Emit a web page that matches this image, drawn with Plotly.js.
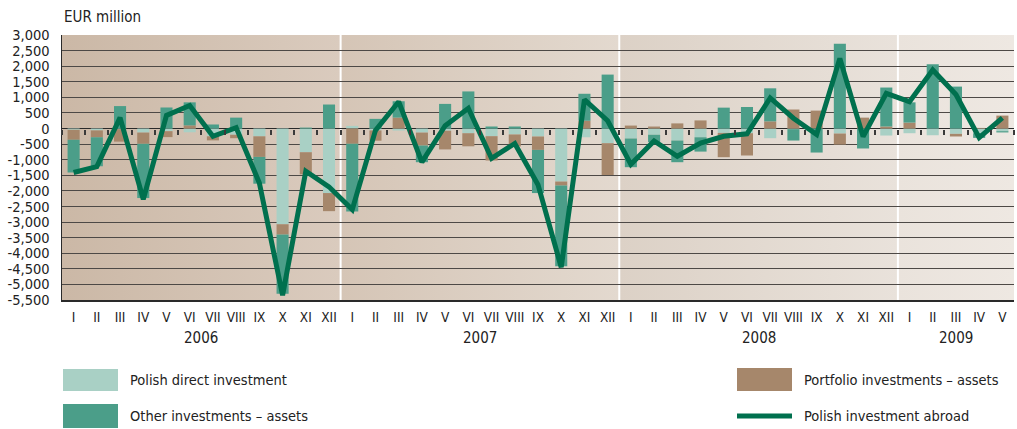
<!DOCTYPE html>
<html>
<head>
<meta charset="utf-8">
<script src="https://cdn.plot.ly/plotly-3.0.1.min.js"></script>
<style>
html,body{margin:0;padding:0;background:#ffffff;}
#chart{width:1017px;height:429px;}
</style>
</head>
<body>
<div id="chart"></div>
<script>
// ---- DATA (EUR million) ----
const romanMonths = ['I','II','III','IV','V','VI','VII','VIII','IX','X','XI','XII'];
const years = ['2006','2007','2008','2009'];
const monthsPerYear = [12,12,12,5];

const directInvestment = [
  -40,-60,-20,-130,-85,-120,-250,-200,-250,-3070,-760,-2070,
  85,-60,-65,-130,-70,-150,-245,-190,-255,-1700,-280,-470,
  -320,-200,-385,-280,-140,-150,-310,-20,0,-160,0,-225,
  -150,-215,-170,-150,-85
];
const portfolioAssets = [
  -320,-220,-400,-360,-190,100,-130,-110,-660,-330,-710,-580,
  -490,-330,350,-415,-600,-420,-780,-385,-430,-130,250,-1020,
  95,64,165,260,-780,-715,230,610,575,-355,350,65,
  190,0,-85,20,415
];
const otherAssets = [
  -1050,-930,720,-1740,675,740,130,350,-860,-1900,30,770,
  -2170,310,525,-535,790,1190,65,65,-1385,-2590,865,1730,
  -920,-235,-695,-460,670,690,1060,-365,-770,2720,-640,1250,
  650,2060,1345,-150,-40
];
const investmentAbroad = [
  -1410,-1220,350,-2270,420,740,-250,30,-1750,-5350,-1370,-1870,
  -2600,-60,860,-1080,90,650,-960,-480,-1800,-4450,930,250,
  -1150,-400,-890,-470,-250,-170,980,330,-190,2250,-260,1130,
  860,1880,1090,-290,340
];

const yTickVals = [3000,2500,2000,1500,1000,500,0,-500,-1000,-1500,-2000,-2500,-3000,-3500,-4000,-4500,-5000,-5500];
const yTickText = ['3,000','2,500','2,000','1,500','1,000','500','0','-500','-1,000','-1,500','-2,000','-2,500','-3,000','-3,500','-4,000','-4,500','-5,000','-5,500'];

const seriesNames = ['Polish direct investment','Portfolio investments – assets','Other investments – assets','Polish investment abroad'];
const seriesColors = ['#a9d0c5','#a6876b','#4b9e89','#00704e'];

// year background gradients (left colour, right colour)
const yearBgLeft  = ['#cbb8a6','#d5c5b6','#dcd1c6','#eae3dc'];
const yearBgRight = ['#dacbbe','#e3d9cf','#e9e2db','#eee8e2'];

// ---- BUILD ----
const monthLabels = [];
const yearStart = [];
let k = 0;
monthsPerYear.forEach((n) => { yearStart.push(k); for (let i = 0; i < n; i++) { monthLabels.push(romanMonths[i]); k++; } });
const N = monthLabels.length;
const xIdx = monthLabels.map((_, i) => i);
const boundaries = [];
for (let i = 0; i <= N; i++) boundaries.push(i - 0.5);

const FONT = '"Liberation Sans Narrow", "DejaVu Sans Condensed", "Roboto Condensed", Arial, sans-serif';

const barWidth = 0.52;
const traces = [
  {type:'bar', name:seriesNames[0], x:xIdx, y:directInvestment, marker:{color:seriesColors[0]}, width:barWidth, hoverinfo:'y+name'},
  {type:'bar', name:seriesNames[1], x:xIdx, y:portfolioAssets, marker:{color:seriesColors[1]}, width:barWidth, hoverinfo:'y+name'},
  {type:'bar', name:seriesNames[2], x:xIdx, y:otherAssets, marker:{color:seriesColors[2]}, width:barWidth, hoverinfo:'y+name'},
  {type:'scatter', mode:'lines', name:seriesNames[3], x:xIdx, y:investmentAbroad, line:{color:seriesColors[3], width:5}, hoverinfo:'y+name'},
  {type:'scatter', mode:'markers', x:[0], y:[null], xaxis:'x2', yaxis:'y', showlegend:false, hoverinfo:'skip'}
];

// helpers for legend placement (paper coords from pixel layout)
const M = {l:62, r:3, t:35, b:129};
const W = 1017, H = 429;
const pw = W - M.l - M.r, ph = H - M.t - M.b;
const px = (p) => (p - M.l) / pw;
const py = (p) => (H - M.b - p) / ph;

const shapes = [];
const annotations = [];
const images = [];

yearStart.forEach((s, i) => {
  const n = monthsPerYear[i];
  const svg = "<svg xmlns='http://www.w3.org/2000/svg' width='100' height='100' preserveAspectRatio='none'>" +
    "<defs><linearGradient id='g' x1='0' x2='1' y1='0' y2='0'>" +
    "<stop offset='0' stop-color='" + yearBgLeft[i] + "'/>" +
    "<stop offset='1' stop-color='" + yearBgRight[i] + "'/>" +
    "</linearGradient></defs><rect x='0' y='0' width='100' height='100' fill='url(#g)'/></svg>";
  images.push({
    source: 'data:image/svg+xml;charset=utf-8,' + encodeURIComponent(svg),
    xref:'x', yref:'paper', x: s - 0.5, y: 1, sizex: n, sizey: 1,
    sizing:'stretch', xanchor:'left', yanchor:'top', layer:'below'
  });
  if (i > 0) {
    shapes.push({type:'line', xref:'x', yref:'paper', x0:s-0.5, x1:s-0.5, y0:0, y1:1,
      line:{color:'#ffffff', width:2}, layer:'between'});
  }
  annotations.push({xref:'x', yref:'paper', x: s + (n-1)/2, y: 0, yanchor:'top', yshift:-27,
    text: years[i], showarrow:false, font:{family:FONT, size:15, color:'#222'}});
});

annotations.push({xref:'paper', yref:'paper', x: px(62), y: py(17), xanchor:'left', yanchor:'middle',
  text:'EUR million', showarrow:false, font:{family:FONT, size:15, color:'#222'}});

// legend
const legendItems = [
  {name:seriesNames[0], color:seriesColors[0], kind:'box', x0:63, x1:118, y0:369, y1:391, tx:128, ty:380},
  {name:seriesNames[2], color:seriesColors[2], kind:'box', x0:63, x1:118, y0:404, y1:428, tx:128, ty:416},
  {name:seriesNames[1], color:seriesColors[1], kind:'box', x0:737, x1:792, y0:368, y1:391, tx:802, ty:380},
  {name:seriesNames[3], color:seriesColors[3], kind:'line', x0:737, x1:792, y0:416, y1:416, tx:802, ty:416}
];
legendItems.forEach((it) => {
  if (it.kind === 'box') {
    shapes.push({type:'rect', xref:'paper', yref:'paper', x0:px(it.x0), x1:px(it.x1), y0:py(it.y1), y1:py(it.y0),
      fillcolor:it.color, line:{width:0}});
  } else {
    shapes.push({type:'line', xref:'paper', yref:'paper', x0:px(it.x0), x1:px(it.x1), y0:py(it.y0), y1:py(it.y1),
      line:{color:it.color, width:5}});
  }
  annotations.push({xref:'paper', yref:'paper', x:px(it.tx), y:py(it.ty), xanchor:'left', yanchor:'middle',
    text:it.name, showarrow:false, font:{family:FONT, size:14.5, color:'#222'}});
});

const layout = {
  width: W, height: H,
  margin: M,
  paper_bgcolor:'#ffffff',
  plot_bgcolor:'#d8c9bb',
  barmode:'relative',
  showlegend:false,
  font:{family:FONT, color:'#222'},
  xaxis:{
    range:[-0.5, N - 0.5], tickmode:'array', tickvals:xIdx, ticktext:monthLabels,
    showgrid:false, zeroline:false, showline:true, linecolor:'#2a2a2a', linewidth:1.5,
    ticks:'', tickangle:0, tickfont:{family:FONT, size:13.5, color:'#222'}, ticklabelstandoff:4, fixedrange:true
  },
  xaxis2:{
    overlaying:'x', anchor:'free', position: 5500/8500, side:'bottom',
    range:[-0.5, N - 0.5], tickmode:'array', tickvals:boundaries,
    ticks:'outside', ticklen:5, tickwidth:2, tickcolor:'#3a3a3a',
    showticklabels:false, showgrid:false, zeroline:false, showline:false, fixedrange:true
  },
  yaxis:{
    range:[-5500, 3000], tickmode:'array', tickvals:yTickVals, ticktext:yTickText,
    showgrid:true, gridcolor:'#4d4946', gridwidth:1,
    zeroline:true, zerolinecolor:'#2a2a2a', zerolinewidth:1.5,
    showline:true, linecolor:'#2a2a2a', linewidth:1.5,
    ticks:'', tickfont:{family:FONT, size:14.5, color:'#222'}, ticklabelstandoff:8, fixedrange:true
  },
  shapes: shapes,
  annotations: annotations,
  images: images
};

Plotly.newPlot('chart', traces, layout, {displayModeBar:false, staticPlot:true});
</script>
</body>
</html>
